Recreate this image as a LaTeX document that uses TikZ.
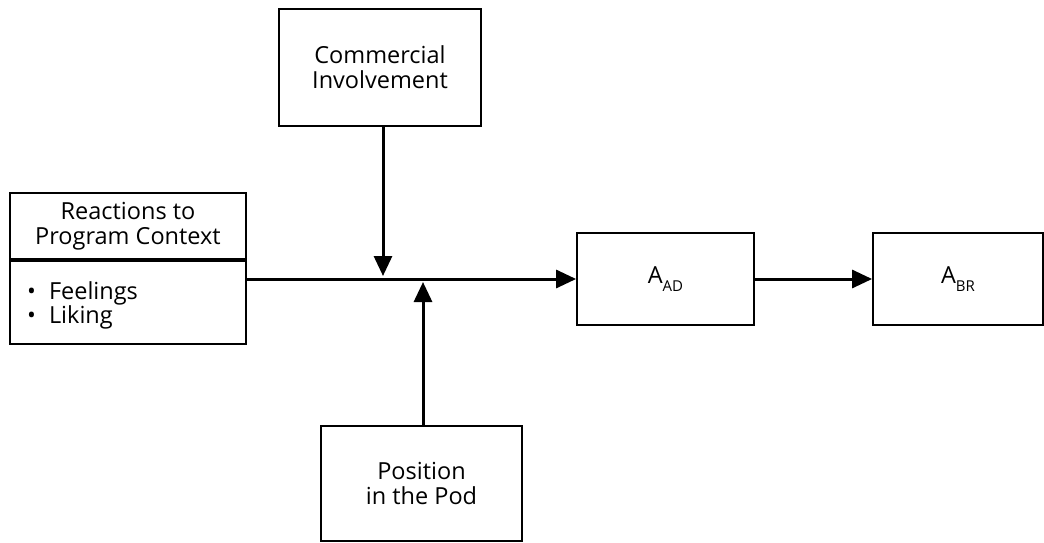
\documentclass[tikz,border=0pt]{standalone}
\usepackage{fontspec}
\setmainfont{Open Sans}
\usetikzlibrary{arrows.meta}
\begin{document}
\begin{tikzpicture}[x=1pt,y=-1pt,
  box/.style={draw,line width=1.8pt,inner sep=0pt,align=center,font=\fontsize{23.5}{25}\selectfont},
  arr/.style={line width=3pt,-{Triangle[length=20pt,width=18pt]}}]
\useasboundingbox (0,0) rectangle (1044,543);
\node[box,minimum width=202pt,minimum height=117pt] (ci) at (380,67.5) {Commercial\\Involvement};
\node[box,minimum width=236pt,minimum height=66pt] (head) at (128,226) {Reactions to\\Program Context};
\node[box,minimum width=236pt,minimum height=83pt,anchor=north] (body) at (head.south) {};
\node[font=\fontsize{23.5}{24}\selectfont,align=left,anchor=west,inner sep=0pt] (bul) at (27,305) {•\hspace{13pt}Feelings\\•\hspace{13pt}Liking};
\node[box,minimum width=177pt,minimum height=92pt] (aad) at (665.5,279) {A\raisebox{-0.6ex}{\fontsize{15}{15}\selectfont AD}};
\node[box,minimum width=170pt,minimum height=92pt] (abr) at (958,279) {A\raisebox{-0.6ex}{\fontsize{15}{15}\selectfont BR}};
\node[box,minimum width=201pt,minimum height=115pt] (pod) at (421.5,483.5) {Position\\in the Pod};
\coordinate (jd) at (383,279);
\coordinate (ju) at (423,279);
\draw[arr] (body.east |- aad.west) -- (aad.west);
\draw[arr,shorten >=3pt] (ci.south -| jd) -- (jd);
\draw[arr,shorten >=3pt] (pod.north -| ju) -- (ju);
\draw[arr] (aad.east) -- (abr.west);
\end{tikzpicture}
\end{document}
